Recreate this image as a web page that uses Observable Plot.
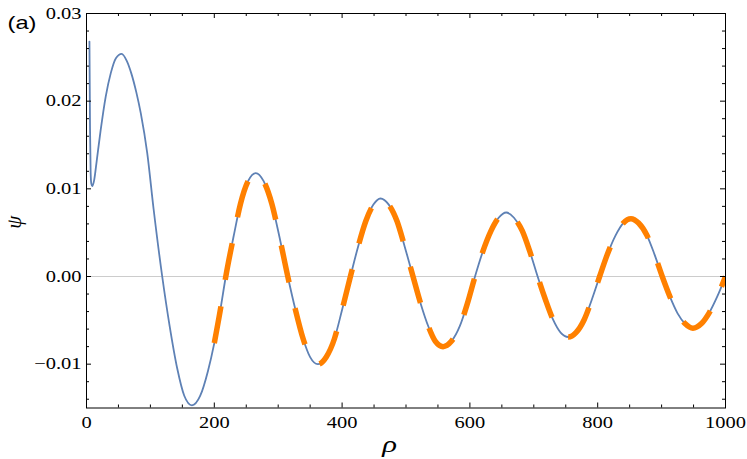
<!DOCTYPE html>
<html><head><meta charset="utf-8">
<script src="https://cdn.jsdelivr.net/npm/d3@7"></script>
<script src="https://cdn.jsdelivr.net/npm/@observablehq/plot@0.6"></script>
<style>
body{margin:0;background:#fff}
#chart svg{display:block}
</style>
</head><body><div id="chart"></div>
<script>
const rho = [4.6, 5.5, 6.5, 7.5, 9, 12, 16, 22, 30, 38, 46, 55, 63, 70, 78, 85, 95, 105, 118.5, 130, 142, 153, 165,
  178, 190, 200, 209, 218, 230, 241, 253, 265, 277, 290, 302, 315, 327, 339, 350, 362, 375, 388, 400, 413,
  425, 437, 449, 460, 473, 486, 498, 511, 523, 535, 546, 558, 571, 584, 596, 608, 620, 633, 645, 657,
  669, 682, 694, 706, 718, 730, 742, 754, 766, 779, 791, 803, 815, 828, 840, 852, 864, 877, 889, 901,
  913, 925, 937, 949, 962, 974, 987, 1000];
const psi = [0.0268, 0.0170, 0.0118, 0.0106, 0.0103, 0.0110, 0.0132, 0.0166, 0.0205, 0.0232, 0.0249, 0.0254, 0.0246, 0.0232, 0.0210, 0.0186, 0.0141, 0.0077, 0, -0.0056, -0.0105, -0.0136, -0.0147,
  -0.0136, -0.0108, -0.0076, -0.0040, 0, 0.0045, 0.0083, 0.0109, 0.0118, 0.0109, 0.0083, 0.0045, 0, -0.0038, -0.0071, -0.0092, -0.0100, -0.0092, -0.0071, -0.0038, 0,
  0.0034, 0.0063, 0.0082, 0.0089, 0.0082, 0.0063, 0.0034, 0, -0.0031, -0.0057, -0.0074, -0.0080, -0.0074, -0.0057, -0.0031, 0, 0.0028, 0.0052, 0.0067, 0.0073,
  0.0067, 0.0052, 0.0028, 0, -0.0026, -0.0049, -0.0064, -0.0069, -0.0064, -0.0049, -0.0026, 0, 0.0025, 0.0047, 0.0061, 0.0066, 0.0061, 0.0047, 0.0025, 0,
  -0.0023, -0.0042, -0.0054, -0.0059, -0.0054, -0.0042, -0.0023, 0.0000];
const orangeFrom = 200;
const xMajor = [0, 200, 400, 600, 800, 1000];
const yMajor = [-0.01, 0.00, 0.01, 0.02, 0.03];
const yTickLabels = ["\u22120.01", "0.00", "0.01", "0.02", "0.03"];

const data = rho.map((r, i) => ({rho: r, psi: psi[i]}));
const orange = data.filter(d => d.rho >= orangeFrom);
const xMinor = d3.range(0, 1001, 50).filter(v => v % 200 !== 0);
const yMinor = d3.range(-14, 30, 2).map(v => v / 1000).filter(v => Math.abs(Math.round(v * 1000) % 10) !== 0);

const W = 747, H = 459, mL = 86, mR = 22, mT = 13, mB = 51.5;
const pw = W - mL - mR, ph = H - mT - mB;
const serif = "'Liberation Serif', 'Times New Roman', serif";
const stretch = 1.28; // the reference text is drawn horizontally widened

const chart = Plot.plot({
  width: W, height: H,
  marginLeft: mL, marginRight: mR, marginTop: mT, marginBottom: mB,
  style: {fontFamily: serif, fontSize: "16px", background: "white", color: "black"},
  x: {domain: [0, 1000], label: null},
  y: {domain: [-0.015, 0.03], label: null},
  marks: [
    Plot.ruleY([0], {stroke: "#cccccc", strokeWidth: 1}),
    Plot.line(data, {x: "rho", y: "psi", stroke: "#5E81B5", strokeWidth: 1.8, curve: "monotone-x", clip: true}),
    Plot.line(orange, {x: "rho", y: "psi", stroke: "#FF8000", strokeWidth: 5.5, curve: "monotone-x", strokeDasharray: "37.5,26.5", strokeLinecap: "butt", clip: true}),
    Plot.frame({stroke: "black", strokeWidth: 1}),
    Plot.tickX(xMajor, {x: d => d, insetTop: ph - 5, stroke: "black"}),
    Plot.tickX(xMinor, {x: d => d, insetTop: ph - 3, stroke: "black"}),
    Plot.tickX(xMajor, {x: d => d, insetBottom: ph - 5, stroke: "black"}),
    Plot.tickX(xMinor, {x: d => d, insetBottom: ph - 3, stroke: "black"}),
    Plot.tickY(yMajor, {y: d => d, insetRight: pw - 5, stroke: "black"}),
    Plot.tickY(yMinor, {y: d => d, insetRight: pw - 3, stroke: "black"}),
    Plot.tickY(yMajor, {y: d => d, insetLeft: pw - 5, stroke: "black"}),
    Plot.tickY(yMinor, {y: d => d, insetLeft: pw - 3, stroke: "black"}),
    Plot.axisX({ticks: xMajor, tickSize: 0, tickPadding: 9, tickFormat: d => String(d), label: null, fontFamily: serif, fontSize: 16}),
    Plot.axisY({ticks: yMajor, tickSize: 0, tickPadding: 5, tickFormat: d => yTickLabels[yMajor.indexOf(d)], label: null, fontFamily: serif, fontSize: 16}),
    Plot.text(["(a)"], {frameAnchor: "top-left", dx: 7 - mL, dy: 15, textAnchor: "start", lineAnchor: "bottom", fontFamily: "'Liberation Sans', Arial, sans-serif", fontSize: 18.5}),
    Plot.text(["\u03c1"], {frameAnchor: "bottom", dx: -16.5, dy: 43.5, textAnchor: "middle", lineAnchor: "bottom", fontFamily: serif, fontStyle: "italic", fontSize: 24}),
    Plot.text(["\u03c8"], {frameAnchor: "left", dx: 13.5 - mL, dy: 11.5, rotate: -90, textAnchor: "middle", lineAnchor: "middle", fontFamily: serif, fontStyle: "italic", fontSize: 21})
  ]
});
document.getElementById("chart").appendChild(chart);

// widen the upright texts horizontally about their anchor points
d3.select(chart).selectAll("text").each(function() {
  const t = this.getAttribute("transform");
  if (t && t.includes("rotate")) return;
  const sc = ` scale(${stretch},1)`;
  if (t) {
    this.setAttribute("transform", t + sc);
  } else {
    const x = +(this.getAttribute("x") || 0), y = +(this.getAttribute("y") || 0);
    this.removeAttribute("x"); this.removeAttribute("y");
    this.setAttribute("transform", `translate(${x},${y})` + sc);
  }
});
</script>
</body></html>
